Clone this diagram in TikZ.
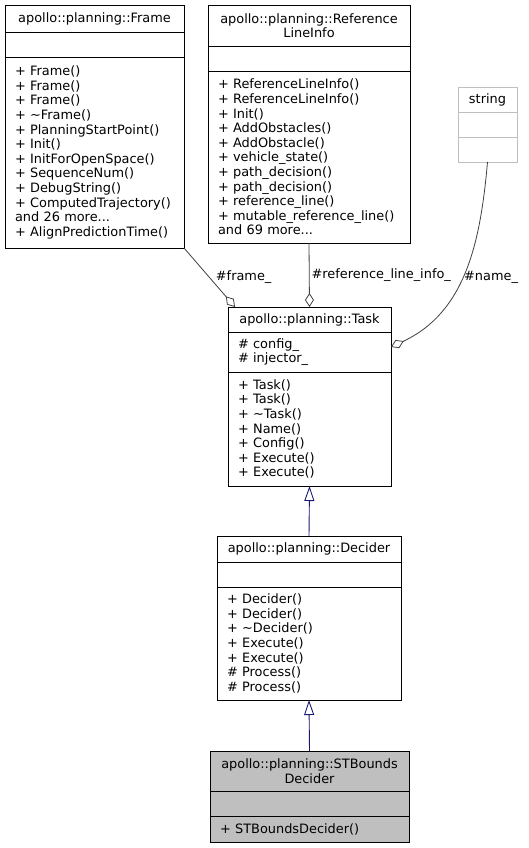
\documentclass[tikz,border=0pt]{standalone}
\usepackage{fontspec}
\setmainfont{DejaVu Sans}
\usetikzlibrary{positioning,arrows.meta}
\definecolor{edgeblue}{HTML}{191970}
\definecolor{hlgray}{HTML}{BFBFBF}
\hyphenpenalty=10000
\exhyphenpenalty=10000
\begin{document}
\begin{tikzpicture}[x=1pt,y=1pt,
    every node/.style={font=\fontsize{12.9}{14.6}\selectfont},
    box/.style={draw=black,line width=0.9pt,outer sep=0pt,
    inner xsep=10pt,inner ysep=0pt,align=left},
    head/.style={box,align=center},
    agg/.style={draw=black!75,line width=0.8pt,
    -{Diamond[open,length=14pt,width=9pt]}},
    isa/.style={draw=edgeblue,line width=0.9pt,
    -{Triangle[open,length=15pt,width=10pt]}},
    lbl/.style={inner sep=2pt}]
    \useasboundingbox (0,0) rectangle (529,-848);
    % Frame
    \node[head,text width=159pt,minimum height=27pt,anchor=north west] (frame) at (5,-5) {apollo::planning::Frame};
    \node[box,text width=159pt,minimum height=25pt,below=0pt of frame] (frame-a) {};
    \node[box,text width=159pt,minimum height=191pt,below=0pt of frame-a] (frame-m)
    {+ Frame()\\+ Frame()\\+ Frame()\\+ \textasciitilde Frame()\\
    + PlanningStartPoint()\\+ Init()\\+ InitForOpenSpace()\\
    + SequenceNum()\\+ DebugString()\\+ ComputedTrajectory()\\
    and 26 more...\\+ AlignPredictionTime()};
    % ReferenceLineInfo
    \node[head,text width=182pt,minimum height=41pt,anchor=north west] (ref) at (208,-5)
    {apollo::planning::Reference\\LineInfo};
    \node[box,text width=182pt,minimum height=25pt,below=0pt of ref] (ref-a) {};
    \node[box,text width=182pt,minimum height=172pt,below=0pt of ref-a] (ref-m)
    {+ ReferenceLineInfo()\\+ ReferenceLineInfo()\\+ Init()\\
    + AddObstacles()\\+ AddObstacle()\\+ vehicle\_state()\\
    + path\_decision()\\+ path\_decision()\\+ reference\_line()\\
    + mutable\_reference\_line()\\and 69 more...};
    % string
    \node[head,draw=hlgray,inner xsep=4pt,text width=51pt,minimum height=25pt,anchor=north west] (string) at (458,-87) {string};
    \node[box,draw=hlgray,inner xsep=4pt,text width=51pt,minimum height=25pt,below=0pt of string] (string-a) {};
    \node[box,draw=hlgray,inner xsep=4pt,text width=51pt,minimum height=25pt,below=0pt of string-a] (string-m) {};
    % Task
    \node[head,text width=143pt,minimum height=25pt,anchor=north west] (task) at (228,-307) {apollo::planning::Task};
    \node[box,text width=143pt,minimum height=40pt,below=0pt of task] (task-a)
    {\# config\_\\\# injector\_};
    \node[box,text width=143pt,minimum height=114pt,below=0pt of task-a] (task-m)
    {+ Task()\\+ Task()\\+ \textasciitilde Task()\\+ Name()\\
    + Config()\\+ Execute()\\+ Execute()};
    % Decider
    \node[head,text width=164pt,minimum height=26pt,anchor=north west] (decider) at (217,-536) {apollo::planning::Decider};
    \node[box,text width=164pt,minimum height=25pt,below=0pt of decider] (decider-a) {};
    \node[box,text width=164pt,minimum height=113pt,below=0pt of decider-a] (decider-m)
    {+ Decider()\\+ Decider()\\+ \textasciitilde Decider()\\+ Execute()\\
    + Execute()\\\# Process()\\\# Process()};
    % STBoundsDecider
    \node[head,fill=hlgray,text width=179pt,minimum height=40pt,anchor=north west] (stb) at (210,-751)
    {apollo::planning::STBounds\\Decider};
    \node[box,fill=hlgray,text width=179pt,minimum height=25pt,below=0pt of stb] (stb-a) {};
    \node[box,fill=hlgray,text width=179pt,minimum height=26pt,below=0pt of stb-a] (stb-m)
    {+ STBoundsDecider()};
    % edges
    \draw[agg] (frame-m.south east) -- node[lbl,pos=0.5,right=4pt] (l-frame) {\#frame\_} ([xshift=7pt]task.north west);
    \draw[agg] (ref-m.south) -- node[lbl,right] (l-ref) {\#reference\_line\_info\_} (task.north);
    \draw[agg] (string-m.south) to[out=-95,in=25] node[lbl,pos=0.53,right] (l-name) {\#name\_} ([yshift=5pt]task-a.east);
    \draw[isa] (decider.north) -- (task-m.south);
    \draw[isa] (stb.north) -- (decider-m.south);
\end{tikzpicture}
\end{document}
